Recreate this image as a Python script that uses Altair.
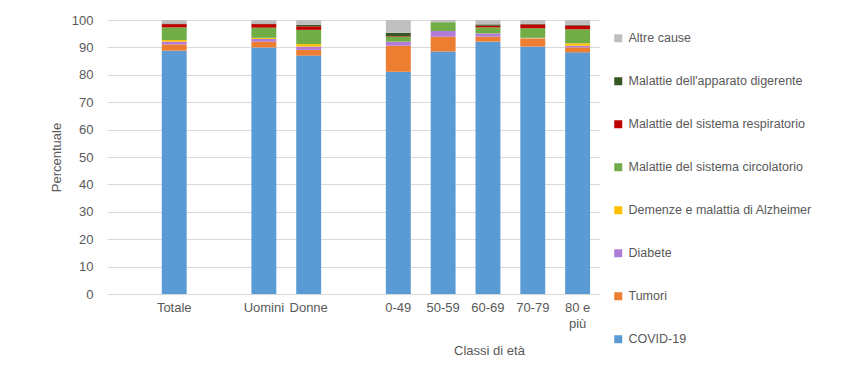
import altair as alt
import pandas as pd

# x slots (blank slots create the gaps between groups)
slots = ["   ", "Totale", " ", "Uomini", "Donne", "  ", "0-49", "50-59", "60-69", "70-79", "80 e più"]
categories = ["Totale", "Uomini", "Donne", "0-49", "50-59", "60-69", "70-79", "80 e più"]

causes = [
    "COVID-19",
    "Tumori",
    "Diabete",
    "Demenze e malattia di Alzheimer",
    "Malattie del sistema circolatorio",
    "Malattie del sistema respiratorio",
    "Malattie dell'apparato digerente",
    "Altre cause",
]
colors = ["#5B9BD5", "#ED7D31", "#B07CD8", "#FFC000", "#70AD47", "#C00000", "#375623", "#BFBFBF"]

covid = [88.8, 90.0, 87.0, 81.1, 88.5, 92.1, 90.3, 88.2]
tumori = [2.3, 2.1, 2.1, 9.5, 5.4, 1.8, 2.8, 1.8]
diabete = [1.0, 1.0, 1.2, 1.5, 2.1, 1.2, 0.2, 0.6]
demenze = [0.6, 0.4, 0.9, 0.0, 0.0, 0.0, 0.2, 0.9]
circolatorio = [4.6, 3.7, 5.2, 1.8, 3.2, 2.2, 3.5, 5.1]
respiratorio = [1.2, 1.3, 1.3, 0.2, 0.0, 0.6, 1.4, 1.4]
digerente = [0.2, 0.2, 0.5, 1.2, 0.0, 0.5, 0.2, 0.2]
altre = [1.3, 1.3, 1.8, 4.7, 0.8, 1.6, 1.4, 1.8]

series = [covid, tumori, diabete, demenze, circolatorio, respiratorio, digerente, altre]

rows = []
for ci, (cause, vals) in enumerate(zip(causes, series)):
    for cat, v in zip(categories, vals):
        rows.append({"cat": cat, "cause": cause, "value": v, "ord": ci})
df = pd.DataFrame(rows)

FONT = "Liberation Sans"
GREY = "#595959"

chart = (
    alt.Chart(df)
    .mark_bar()
    .encode(
        x=alt.X(
            "cat:N",
            scale=alt.Scale(domain=slots, paddingInner=0.444, paddingOuter=0.222),
            axis=alt.Axis(
                title="Classi di età",
                titleX=382,
                titleY=56,
                titleBaseline="middle",
                titleFontWeight="normal",
                titleFontSize=13,
                titleColor=GREY,
                titleFont=FONT,
                labelAngle=0,
                labelExpr="datum.value == '80 e più' ? ['80 e', 'più'] : datum.value",
                labelLineHeight=16,
                labelOverlap=False,
                labelPadding=7,
                labelFontSize=13,
                labelColor=GREY,
                labelFont=FONT,
                domain=False,
                ticks=False,
                tickSize=0,
            ),
        ),
        y=alt.Y(
            "value:Q",
            stack="zero",
            scale=alt.Scale(domain=[0, 100], nice=False),
            axis=alt.Axis(
                title="Percentuale",
                values=list(range(0, 101, 10)),
                grid=True,
                gridColor="#d9d9d9",
                domain=False,
                ticks=False,
                tickSize=0,
                labelPadding=14,
                labelFontSize=13,
                labelColor=GREY,
                labelFont=FONT,
                titleFontWeight="normal",
                titleFontSize=13,
                titleColor=GREY,
                titleFont=FONT,
                titlePadding=8,
            ),
        ),
        color=alt.Color(
            "cause:N",
            scale=alt.Scale(domain=causes[::-1], range=colors[::-1]),
            legend=alt.Legend(
                title=None,
                orient="none",
                legendX=505,
                legendY=12,
                symbolType="square",
                symbolSize=64,
                symbolStrokeWidth=0,
                rowPadding=30,
                labelFontSize=12.5,
                labelColor=GREY,
                labelFont=FONT,
                labelOffset=4,
                padding=0,
                labelLimit=300,
            ),
        ),
        order=alt.Order("ord:Q", sort="ascending"),
    )
    .properties(
        width=493,
        height=274,
        autosize=alt.AutoSizeParams(type="none"),
        padding={"left": 99, "top": 12, "right": 242, "bottom": 67},
        background="white",
    )
    .configure_view(stroke=None)
)

chart.save("out.html", embed_options={"renderer": "svg", "actions": False})
